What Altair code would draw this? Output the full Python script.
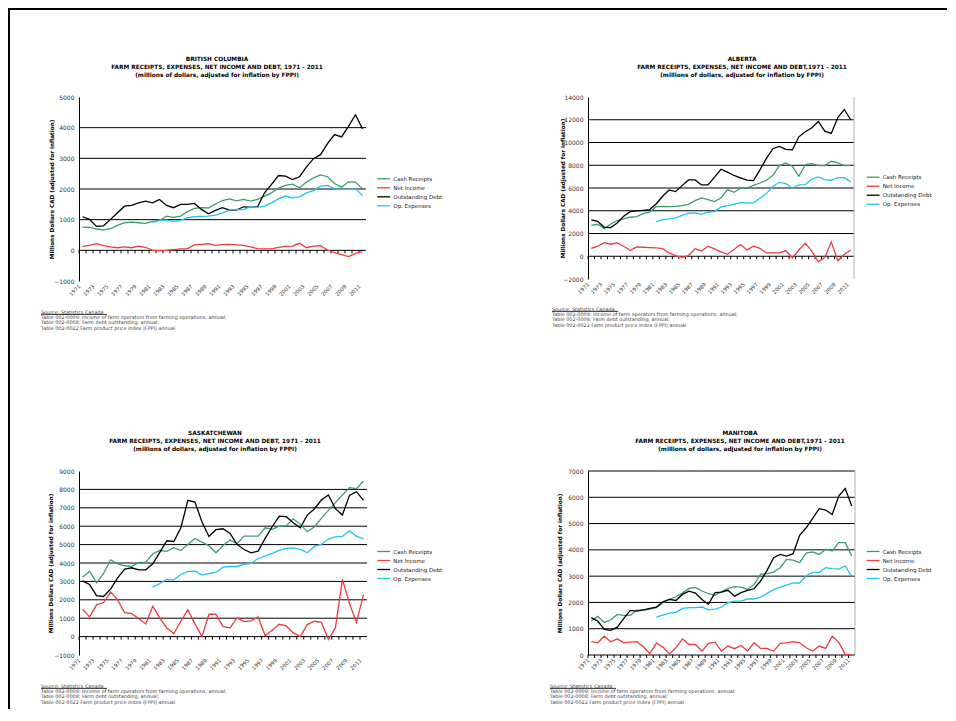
import altair as alt
import pandas as pd

YEARS = list(range(1971, 2012))
OPEX_YEARS = list(range(1981, 2012))
X_LABELS = list(range(1971, 2012, 2))
SERIES = ["Cash Receipts", "Net Income", "Outstanding Debt", "Op. Expenses"]
COLORS = ["#3A9E6B", "#EE3B3B", "#000000", "#1FC6F2"]
Y_TITLE = "Millions Dollars CAD (adjusted for inflation)"
SOURCE_LINES = [
    "Source:  Statistics Canada",
    "Table 002-0009:  Income of farm operators from farming operations, annual;",
    "Table 002-0008: Farm debt outstanding, annual;",
    "Table 002-0022 Farm product price index (FPPI) annual",
]
SUB_A = "FARM RECEIPTS, EXPENSES, NET INCOME AND DEBT, 1971 - 2011"
SUB_B = "FARM RECEIPTS, EXPENSES, NET INCOME AND DEBT,1971 - 2011"
SUB_2 = "(millions of dollars, adjusted for inflation by FPPI)"

# ---------------- British Columbia ----------------
BC_CASH = [760, 750, 695, 670, 705, 815, 900, 920, 900, 880,
           945, 975, 1115, 1075, 1115, 1260, 1365, 1390, 1380, 1510,
           1625, 1680, 1615, 1660, 1605, 1660, 1770, 1875, 2030, 2115,
           2160, 2040, 2225, 2365, 2460, 2400, 2180, 2060, 2235, 2225,
           2005]
BC_NET = [130, 160, 215, 150, 110, 85, 110, 85, 140, 100,
          0, -10, 0, 20, 45, 55, 175, 195, 215, 160,
          185, 195, 175, 160, 110, 55, 45, 45, 100, 130,
          140, 230, 85, 140, 150, 10, -75, -140, -205, -100,
          -45]
BC_DEBT = [1095, 1010, 780, 800, 1010, 1225, 1440, 1465, 1550, 1605,
           1550, 1660, 1465, 1390, 1500, 1500, 1530, 1335, 1190, 1300,
           1390, 1310, 1310, 1420, 1410, 1420, 1875, 2150, 2440, 2420,
           2310, 2400, 2720, 2990, 3120, 3480, 3775, 3700, 4045, 4420,
           3960]
BC_OPEX = [900, 985, 985, 945, 975, 1065, 1095, 1105, 1115, 1150,
           1225, 1310, 1335, 1325, 1420, 1400, 1440, 1550, 1680, 1770,
           1715, 1745, 1875, 1950, 2095, 2115, 2015, 1985, 1985, 2005,
           1790]

# ---------------- Alberta ----------------
AB_CASH = [2720, 2810, 2430, 2840, 3130, 3280, 3430, 3490, 3750, 3870,
           4360, 4390, 4360, 4390, 4450, 4570, 4890, 5125, 4980, 4800,
           5125, 5860, 5625, 5975, 6000, 6240, 6440, 6680, 7120, 7970,
           8200, 7910, 7030, 8055, 8140, 7970, 7970, 8350, 8200, 7970,
           7970]
AB_NET = [700, 880, 1200, 1055, 1170, 880, 500, 820, 790, 760,
          730, 670, 290, 60, -90, 60, 670, 470, 880, 645,
          380, 175, 585, 1025, 555, 880, 700, 290, 290, 300,
          500, -150, 550, 1150, 450, -500, -100, 1250, -400, 150,
          550]
AB_DEBT = [3190, 3075, 2550, 2520, 2930, 3515, 3925, 3985, 4040, 4100,
           4600, 5270, 5830, 5680, 6210, 6710, 6710, 6270, 6270, 6950,
           7650, 7400, 7100, 6900, 6700, 6650, 7600, 8600, 9450, 9650,
           9400, 9350, 10500, 10950, 11300, 11850, 11000, 10800, 12200, 12900,
           12000]
AB_OPEX = [3045, 3220, 3280, 3370, 3600, 3780, 3810, 3690, 3870, 3925,
           4335, 4450, 4570, 4715, 4690, 4690, 5100, 5510, 6150, 6500,
           6385, 5975, 6270, 6300, 6795, 6970, 6735, 6680, 6910, 6910,
           6530]

# ---------------- Saskatchewan ----------------
SK_CASH = [3230, 3555, 2920, 3430, 4175, 3955, 3850, 3810, 4030, 4045,
           4500, 4680, 4630, 4830, 4680, 5010, 5335, 5135, 4935, 4555,
           4935, 5245, 5045, 5460, 5460, 5460, 5915, 5825, 6005, 6025,
           6405, 6100, 5700, 5955, 6425, 6860, 7280, 7695, 8095, 8040,
           8455]
SK_NET = [1490, 1070, 1725, 1850, 2415, 1995, 1305, 1250, 980, 690,
          1650, 1015, 470, 165, 835, 1450, 690, 0, 1215, 1215,
          545, 470, 1015, 815, 855, 1070, 55, 345, 670, 580,
          200, 0, 655, 835, 780, -145, 470, 3105, 1815, 760,
          2285]
SK_DEBT = [3030, 2830, 2230, 2180, 2580, 3195, 3665, 3740, 3630, 3630,
           3955, 4575, 5210, 5170, 5915, 7405, 7315, 6245, 5445, 5810,
           5860, 5610, 5010, 4735, 4555, 4645, 5335, 5970, 6550, 6515,
           6190, 5915, 6605, 6935, 7425, 7695, 6950, 6605, 7675, 7875,
           7405]
SK_OPEX = [2685, 2885, 3105, 3085, 3375, 3540, 3555, 3340, 3430, 3500,
           3775, 3810, 3810, 3920, 3975, 4245, 4375, 4520, 4680, 4790,
           4825, 4735, 4555, 4900, 5010, 5300, 5420, 5450, 5750, 5450,
           5330]

# ---------------- Manitoba ----------------
MB_CASH = [1290, 1470, 1240, 1340, 1545, 1510, 1510, 1710, 1710, 1745,
           1800, 1990, 2115, 2215, 2355, 2535, 2570, 2435, 2330, 2270,
           2410, 2535, 2600, 2585, 2495, 2685, 3070, 3095, 3155, 3320,
           3635, 3610, 3510, 3875, 3925, 3825, 4020, 3955, 4275, 4275,
           3765]
MB_NET = [505, 465, 715, 505, 615, 465, 490, 505, 315, 50,
          455, 300, 40, 275, 615, 400, 400, 150, 440, 490,
          150, 340, 240, 365, 150, 465, 250, 250, 140, 440,
          465, 505, 465, 275, 150, 340, 250, 715, 490, 25,
          0]
MB_DEBT = [1420, 1290, 975, 935, 1060, 1390, 1695, 1670, 1720, 1770,
           1825, 2025, 2115, 2075, 2305, 2430, 2355, 2115, 1925, 2370,
           2395, 2460, 2240, 2370, 2460, 2520, 2815, 3220, 3705, 3830,
           3765, 3855, 4550, 4840, 5195, 5565, 5515, 5345, 6045, 6335,
           5665]
MB_OPEX = [1445, 1520, 1595, 1620, 1775, 1800, 1800, 1825, 1720, 1745,
           1825, 1990, 2050, 2050, 2130, 2130, 2205, 2345, 2485, 2585,
           2660, 2740, 2740, 3015, 3145, 3145, 3320, 3285, 3270, 3385,
           2990]

FONT = "DejaVu Sans"


def long_df(cash, net, debt, opex):
    rows = []
    for name, yrs, vals in [("Cash Receipts", YEARS, cash), ("Net Income", YEARS, net),
                            ("Outstanding Debt", YEARS, debt), ("Op. Expenses", OPEX_YEARS, opex)]:
        for y, v in zip(yrs, vals):
            rows.append({"year": y, "series": name, "value": v})
    return pd.DataFrame(rows)


ONE = pd.DataFrame({"k": [0]})


def panel(p):
    W, H = p["w"], p["h"]
    step = W / len(YEARS)
    tick_vals = list(range(p["ymin"], p["ymax"] + 1, p["ystep"]))
    grid_vals = [v for v in tick_vals if v not in (p["ymin"], 0) and (p["top_grid"] or v != p["ymax"])]
    yscale = alt.Scale(domain=[p["ymin"], p["ymax"]], nice=False, zero=False)
    xscale = alt.Scale(domain=YEARS)
    xaxis = alt.Axis(values=X_LABELS, labelAngle=-45, labelAlign="right",
                     labelBaseline="middle", ticks=False, tickSize=0, domain=False,
                     labelFontSize=5.3, labelColor="#333", labelPadding=4,
                     labelOffset=-3, labelOverlap=False, title=None, labelFont=FONT, grid=False)
    yaxis = alt.Axis(values=tick_vals, format="d", grid=False, ticks=False, tickSize=0,
                     domainColor="#000", domainWidth=1, labelFontSize=6,
                     labelColor="#333", labelPadding=5, labelFont=FONT,
                     title=Y_TITLE, titleFontSize=5.7, titleFontWeight="bold",
                     titleColor="#000", titleFont=FONT, titleX=p["ytx"], titleY=H / 2,
                     titleAngle=270, titleAlign="center", titleBaseline="middle")
    X = alt.X("year:O", scale=xscale, axis=xaxis)
    Y = alt.Y("value:Q", scale=yscale, axis=yaxis)

    grid = alt.Chart(pd.DataFrame({"value": grid_vals})).mark_rule(
        color="#000", strokeWidth=1).encode(y=Y)
    zero = alt.Chart(pd.DataFrame({"value": [0]})).mark_rule(
        color="#000", strokeWidth=1).encode(y=Y)
    ticks = alt.Chart(pd.DataFrame({"year": YEARS, "value": [0] * len(YEARS)})).mark_rule(
        color="#000", strokeWidth=1, xOffset=-step / 2, y2Offset=3).encode(
        x=X, y=Y, y2=alt.Y2("value"))

    lines = alt.Chart(long_df(*p["data"])).mark_line(strokeWidth=1.3).encode(
        x=X, y=Y,
        color=alt.Color("series:N", scale=alt.Scale(domain=SERIES, range=COLORS),
                        legend=alt.Legend(orient="none", legendX=p["lx"], legendY=p["ly"], title=None,
                                          symbolType="M-1.6,0H1.6", symbolSize=64,
                                          symbolStrokeWidth=1.3, symbolOffset=2.4,
                                          labelFontSize=5.5, labelFont=FONT, labelColor="#222",
                                          rowPadding=0, padding=0, labelOffset=4.6, offset=0)),
    )

    title = alt.Chart(ONE).mark_text(
        text=[p["name"], p["sub"], SUB_2], align="center", baseline="top", fontSize=5.8,
        fontWeight="bold", lineHeight=8, color="#000", font=FONT).encode(
        x=alt.value(p["tx"]), y=alt.value(-41.5))
    source = alt.Chart(ONE).mark_text(
        text=SOURCE_LINES, align="left", baseline="top", fontSize=4.9, lineHeight=5.2,
        color="#444", font=FONT).encode(x=alt.value(p["sx"]), y=alt.value(p["sy"]))
    underline = alt.Chart(ONE).mark_rule(color="#000", strokeWidth=0.8).encode(
        x=alt.value(p["sx"]), x2=alt.value(p["sx"] + 66), y=alt.value(p["sy"] + 4.4))

    layers = [grid, zero, ticks, lines, title, source, underline]
    if p["border"]:
        layers.append(alt.Chart(ONE).mark_rule(color="#b0b0b0", strokeWidth=1).encode(
            x=alt.value(W), y=alt.value(0), y2=alt.value(H)))
    if p.get("page"):
        # page frame (left and top edges), filled bars so their bounds are exact
        layers.append(alt.Chart(ONE).mark_rect(color="#000", strokeWidth=0).encode(
            x=alt.value(-71), x2=alt.value(-69), y=alt.value(-89), y2=alt.value(612)))
        layers.append(alt.Chart(ONE).mark_rect(color="#000", strokeWidth=0).encode(
            x=alt.value(-71), x2=alt.value(868), y=alt.value(-89), y2=alt.value(-87)))
    return alt.layer(*layers).properties(width=W, height=H)


PANELS = [
    dict(name="BRITISH COLUMBIA", sub=SUB_A, data=(BC_CASH, BC_NET, BC_DEBT, BC_OPEX),
         w=287, h=184, ymin=-1000, ymax=5000, ystep=1000, top_grid=False, border=False,
         tx=138, ytx=-28, lx=297.3, ly=76.8, sx=-38, sy=213, page=True),
    dict(name="ALBERTA", sub=SUB_B, data=(AB_CASH, AB_NET, AB_DEBT, AB_OPEX),
         w=266, h=182, ymin=-2000, ymax=14000, ystep=2000, top_grid=False, border=True,
         tx=154, ytx=-26, lx=277.7, ly=75.2, sx=-36, sy=210),
    dict(name="SASKATCHEWAN", sub=SUB_A, data=(SK_CASH, SK_NET, SK_DEBT, SK_OPEX),
         w=288, h=184, ymin=-1000, ymax=9000, ystep=1000, top_grid=False, border=False,
         tx=136, ytx=-29, lx=297.3, ly=75.5, sx=-38, sy=213),
    dict(name="MANITOBA", sub=SUB_B, data=(MB_CASH, MB_NET, MB_DEBT, MB_OPEX),
         w=267, h=184, ymin=0, ymax=7000, ystep=1000, top_grid=True, border=True,
         tx=152, ytx=-29, lx=277.7, ly=75.5, sx=-38, sy=213),
]

charts = [panel(p) for p in PANELS]

chart = alt.concat(
    *charts, columns=2, spacing={"row": 190, "column": 221}, bounds="flush", align="each"
).resolve_scale(color="independent").properties(padding=0).configure(
    font=FONT).configure_view(strokeWidth=0)

chart.save("out.html", embed_options={"renderer": "svg", "actions": False})
